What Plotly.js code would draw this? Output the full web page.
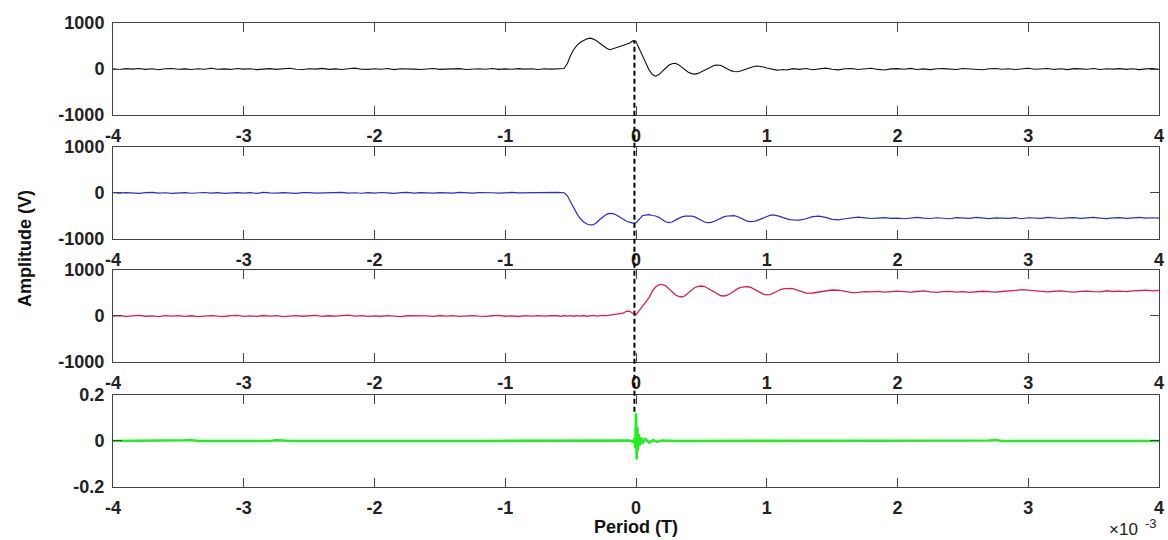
<!DOCTYPE html>
<html>
<head>
<meta charset="utf-8">
<script src="https://cdn.plot.ly/plotly-3.0.1.min.js"></script>
<style>html,body{margin:0;padding:0;background:#fff;}#chart{width:1168px;height:540px;}</style>
</head>
<body>
<div id="chart"></div>
<script>
// time axis (units of 1e-3 T)
const timeMs = [
 -4,-3.95,-3.9,-3.85,-3.8,-3.75,-3.7,-3.65,-3.6,-3.55,-3.5,-3.45,-3.4,-3.35,-3.3,-3.25,-3.2,-3.15,-3.1,-3.05,
 -3,-2.95,-2.9,-2.85,-2.8,-2.75,-2.7,-2.65,-2.6,-2.55,-2.5,-2.45,-2.4,-2.35,-2.3,-2.25,-2.2,-2.15,-2.1,-2.05,
 -2,-1.95,-1.9,-1.85,-1.8,-1.75,-1.7,-1.65,-1.6,-1.55,-1.5,-1.45,-1.4,-1.35,-1.3,-1.25,-1.2,-1.15,-1.1,-1.05,
 -1,-0.95,-0.9,-0.85,-0.8,-0.75,-0.7,-0.65,
 -0.6,-0.575,-0.55,-0.525,-0.5,-0.475,-0.45,-0.425,-0.4,-0.375,-0.35,-0.325,-0.3,-0.275,-0.25,-0.225,-0.2,-0.175,-0.15,-0.125,
 -0.1,-0.075,-0.05,-0.025,0,0.025,0.05,0.075,0.1,0.125,0.15,0.175,0.2,0.225,0.25,0.275,0.3,0.325,0.35,0.375,
 0.4,0.425,0.45,0.475,0.5,0.525,0.55,0.575,0.6,0.625,0.65,0.675,0.7,0.725,0.75,0.775,0.8,0.825,0.85,0.875,
 0.9,0.925,0.95,0.975,1,1.025,1.05,1.075,1.1,1.125,1.15,1.175,1.2,
 1.25,1.3,1.35,1.4,1.45,1.5,1.55,1.6,1.65,1.7,1.75,1.8,1.85,1.9,1.95,2,2.05,2.1,2.15,2.2,
 2.25,2.3,2.35,2.4,2.45,2.5,2.55,2.6,2.65,2.7,2.75,2.8,2.85,2.9,2.95,3,3.05,3.1,3.15,3.2,
 3.25,3.3,3.35,3.4,3.45,3.5,3.55,3.6,3.65,3.7,3.75,3.8,3.85,3.9,3.95,4
];

// black trace (V)
const blackPre = [5,-10,8,-3,12,-8,4,-15,6,10,-5,3,-12,7,-4,15,-6,2,-9,11,-3,6,-14,4,9,-7,2,18,-5,-10,
 6,-2,13,-8,3,-11,7,20,-4,-9,5,-6,10,-13,4,8,-3,-10,6,12,-7,2,-5,9,-12,3,7,-4,11,-8,2,-6,9,-3,5,-10,4,-2];
const blackEvent = [3,-6,10,120,300,430,520,580,620,655,670,650,610,560,500,450,420,440,470,490,
 510,540,560,610,600,440,280,120,-20,-120,-155,-120,-50,20,80,115,125,95,40,-20,
 -70,-100,-110,-95,-60,-20,20,55,80,88,75,40,0,-35,-55,-60,-45,-20,10,40,
 55,65,62,45,20,0,-15,-25,-20,-10,-22,-5,8];
const blackPost = [-8,12,-15,5,20,-6,-18,4,10,-12,6,15,-9,-20,3,8,-5,14,-11,2,-14,6,9,-3,-10,12,4,-7,-16,5,
 10,-4,7,-12,3,15,-6,-2,11,-9,4,-13,8,2,-6,12,-10,5,-3,9,-8,6,-14,3,10,-5];

// blue trace (V)
const bluePre = [8,-5,10,2,-8,6,12,-3,5,-10,4,9,-6,2,11,-4,7,-9,3,10,-2,6,-7,13,1,-5,8,3,-10,6,
 10,-4,2,-8,7,12,-3,5,-6,9,-2,11,4,-7,6,14,-3,8,2,-5,10,6,-4,12,3,-2,9,15,5,-3,8,12,2,6,-4,10,7,15];
const blueEvent = [12,8,5,-60,-200,-340,-460,-560,-630,-675,-695,-690,-640,-570,-510,-465,-445,-450,-480,-530,
 -580,-610,-635,-655,-650,-570,-490,-480,-470,-490,-500,-530,-580,-625,-645,-630,-590,-550,-520,-505,
 -500,-500,-520,-560,-600,-630,-645,-640,-615,-580,-545,-515,-500,-495,-493,-510,-545,-585,-610,-622,
 -620,-600,-570,-535,-505,-485,-478,-490,-510,-535,-560,-580,-585];
const bluePost = [-590,-560,-515,-505,-530,-575,-585,-560,-535,-525,-540,-555,-545,-535,-550,-545,-560,-540,-530,-548,
 -555,-538,-545,-560,-535,-542,-550,-530,-548,-556,-540,-545,-552,-535,-560,-538,-545,-550,-532,-548,
 -555,-540,-536,-552,-545,-530,-548,-558,-540,-535,-550,-542,-530,-548,-538,-545];

// red trace (V)
const redPre = [-5,8,-10,4,12,-6,3,-12,7,-3,10,-8,5,-14,2,9,-4,-11,6,15,-7,3,-9,11,-2,6,-13,4,8,-6,
 2,12,-10,5,-4,9,18,-3,7,-8,4,-6,10,-2,-12,5,8,-5,3,-9,11,-4,6,-10,2,7,-3,-8,5,12,-6,3,-11,8,-2,6,-4,10];
const redEvent = [5,-8,10,-3,6,-5,8,-4,10,-6,4,12,-3,8,15,10,20,25,30,45,
 60,100,105,60,25,120,220,310,400,540,630,675,688,660,600,530,460,425,413,440,
 500,570,620,645,652,640,600,555,505,465,440,435,455,495,545,590,620,635,638,625,
 590,545,505,470,457,465,495,535,570,590,600,600,595];
const redPost = [540,495,500,520,545,565,560,530,510,515,530,525,535,520,530,540,528,518,532,545,
 522,515,528,535,520,530,512,525,538,528,520,532,540,555,575,560,540,530,525,538,
 545,528,520,535,542,530,525,548,532,540,528,545,550,560,548,555];

// green trace
const greenTime = [-4,-3.5,-3.45,-3.4,-3.35,-2.8,-2.75,-2.7,-2.65,-1.2,-0.8,-0.75,-0.7,-0.3,-0.05,-0.02,-0.01,-0.005,
 0,0.005,0.01,0.015,0.02,0.03,0.04,0.05,0.07,0.1,0.13,0.16,0.2,0.3,0.8,1.5,2.3,2.4,2.5,2.7,2.75,2.8,3.2,4];
const greenValue = [0,0,0.003,0.004,0,0,0.003,0.002,0,0,0,0.003,0,0,0.002,-0.004,0.01,-0.03,
 0.12,-0.08,0.06,-0.04,0.03,-0.02,0.015,-0.01,0.008,-0.006,0.004,-0.003,0.002,0,0,0,0,0.003,0,0.002,0.004,0,0,0];

const xTicks = [-4,-3,-2,-1,0,1,2,3,4];
const xTickText = ['-4','-3','-2','-1','0','1','2','3','4'];
const vTicks = [-1000,0,1000];
const vTickText = ['-1000','0','1000'];
const gTicks = [-0.2,0,0.2];
const gTickText = ['-0.2','0','0.2'];

const blackY = blackPre.concat(blackEvent, blackPost);
const blueY = bluePre.concat(blueEvent, bluePost);
const redY = redPre.concat(redEvent, redPost);

const traces = [
  {x: timeMs, y: blackY, xaxis:'x', yaxis:'y', type:'scatter', mode:'lines', line:{color:'#111111', width:1.1}},
  {x: timeMs, y: blueY, xaxis:'x2', yaxis:'y2', type:'scatter', mode:'lines', line:{color:'#2a2ad8', width:1.2}},
  {x: timeMs, y: redY, xaxis:'x3', yaxis:'y3', type:'scatter', mode:'lines', line:{color:'#dc1f4a', width:1.3}},
  {x: greenTime, y: greenValue, xaxis:'x4', yaxis:'y4', type:'scatter', mode:'lines', line:{color:'#22ee22', width:2.6}}
];

const tickFont = {family:'Liberation Sans, Arial, sans-serif', size:18, weight:'bold', color:'#222'};
function xax(anchor){
  return {anchor:anchor, range:[-4,4], tickvals:xTicks, ticktext:xTickText, ticks:'inside', ticklen:9,
    tickcolor:'#444', mirror:'ticks', showline:true, linecolor:'#444', linewidth:1, showgrid:false,
    zeroline:false, tickfont:tickFont, ticklabelstandoff:4};
}
function yax(domain, range, tv, tt){
  return {domain:domain, range:range, tickvals:tv, ticktext:tt, ticks:'inside', ticklen:9,
    tickcolor:'#444', mirror:'ticks', showline:true, linecolor:'#444', linewidth:1, showgrid:false,
    zeroline:false, tickfont:tickFont, ticklabelstandoff:4};
}

const layout = {
  width:1168, height:540,
  margin:{l:113, r:9, t:23, b:53},
  paper_bgcolor:'#fff', plot_bgcolor:'#fff',
  showlegend:false,
  xaxis: xax('y'), xaxis2: xax('y2'), xaxis3: xax('y3'), xaxis4: xax('y4'),
  yaxis: yax([0.8017,1], [-1000,1000], vTicks, vTickText),
  yaxis2: yax([0.5345,0.7328], [-1000,1000], vTicks, vTickText),
  yaxis3: yax([0.2694,0.4677], [-1000,1000], vTicks, vTickText),
  yaxis4: yax([0,0.1983], [-0.2,0.2], gTicks, gTickText),
  shapes:[{type:'line', xref:'x', yref:'paper', x0:-0.012, x1:-0.012, y0:0.162, y1:0.963,
    line:{color:'#000', width:2, dash:'5px,3px'}}],
  annotations:[
    {text:'Amplitude (V)', xref:'paper', yref:'paper', x:-0.0841, y:0.513, textangle:-90, showarrow:false,
      xanchor:'center', yanchor:'middle', font:{family:'Liberation Sans, Arial, sans-serif', size:18, weight:'bold', color:'#111'}},
    {text:'Period (T)', xref:'paper', yref:'paper', x:0.5, y:-0.086, showarrow:false,
      xanchor:'center', yanchor:'middle', font:{family:'Liberation Sans, Arial, sans-serif', size:18, weight:'bold', color:'#111'}},
    {text:'×10', xref:'paper', yref:'paper', x:0.9665, y:-0.092, showarrow:false, borderpad:0,
      xanchor:'center', yanchor:'middle', font:{family:'Liberation Sans, Arial, sans-serif', size:17, color:'#222'}},
    {text:'-3', xref:'paper', yref:'paper', x:0.9925, y:-0.079, showarrow:false, borderpad:0,
      xanchor:'center', yanchor:'middle', font:{family:'Liberation Sans, Arial, sans-serif', size:13, color:'#222'}}
  ]
};

Plotly.newPlot('chart', traces, layout, {displayModeBar:false, staticPlot:true});
</script>
</body>
</html>
